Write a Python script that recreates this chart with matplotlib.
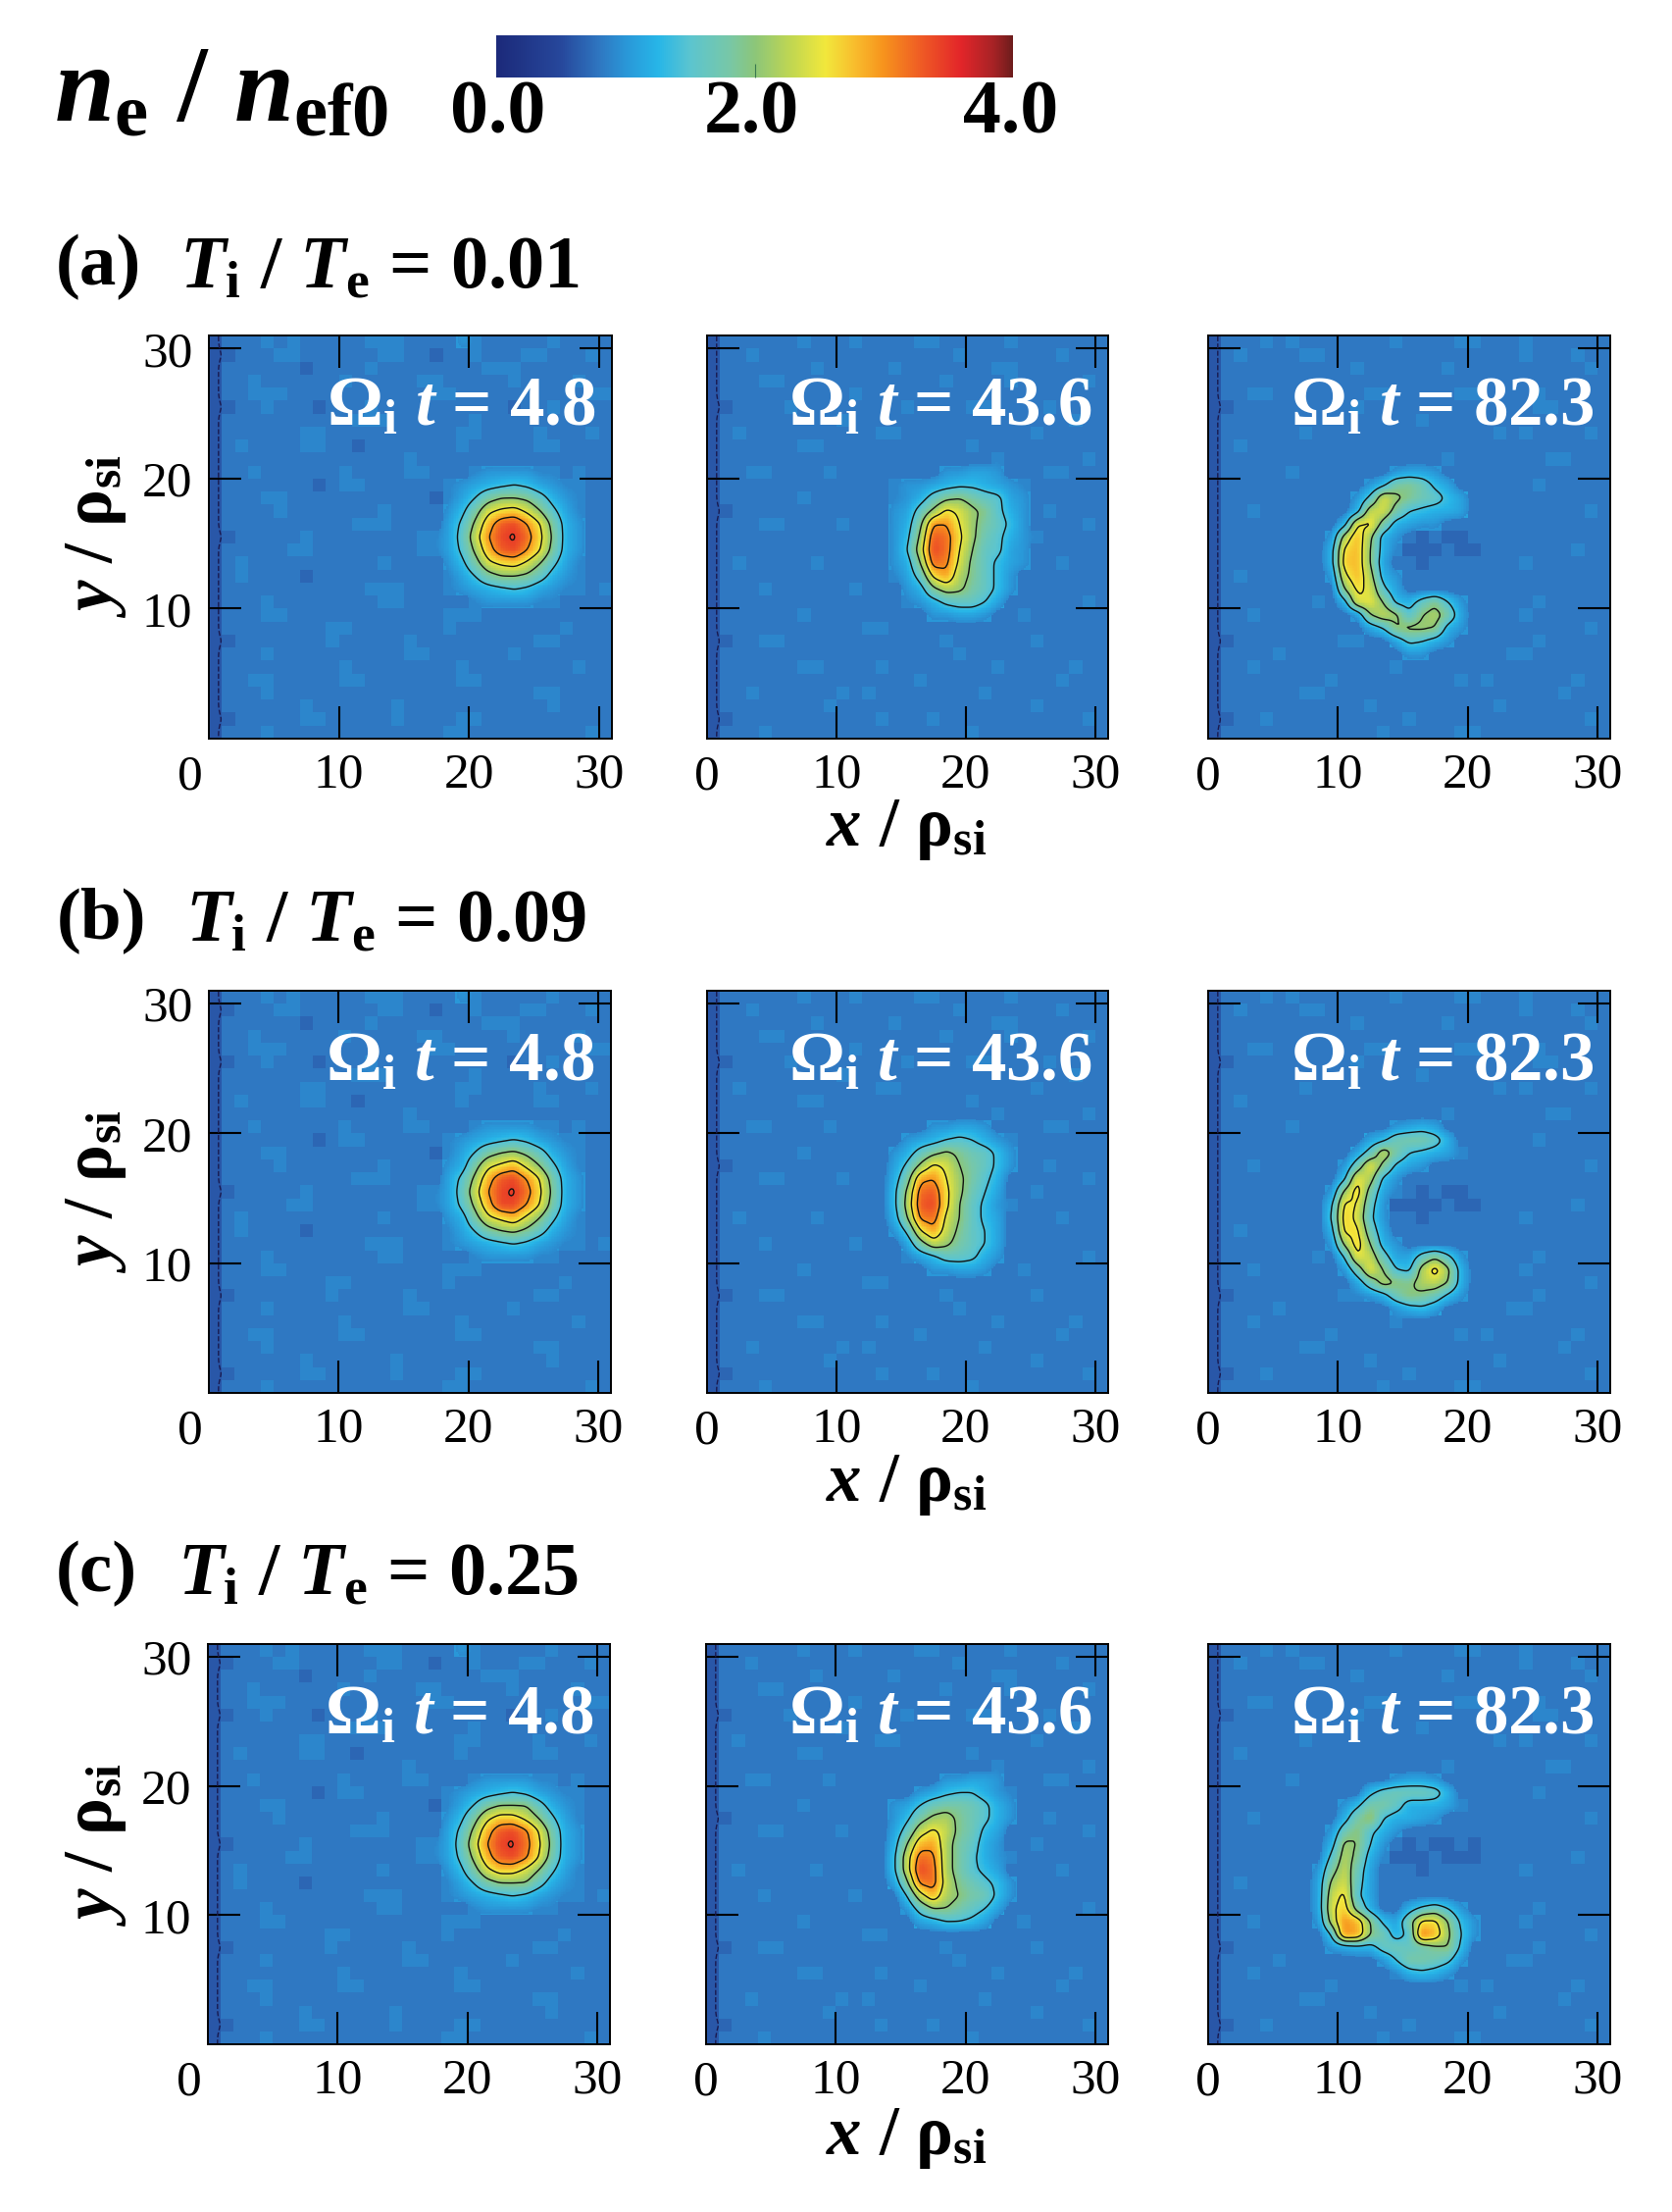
import numpy as np
import matplotlib
matplotlib.use("Agg")
import matplotlib.pyplot as plt
from matplotlib.colors import LinearSegmentedColormap

W, H = 1706, 2255
plt.rcParams.update({
    "font.family": "Liberation Serif",
    "mathtext.fontset": "custom",
    "mathtext.rm": "Liberation Serif:bold",
    "mathtext.it": "Liberation Serif:italic:bold",
    "mathtext.bf": "Liberation Serif:bold",
    "mathtext.default": "rm",
})

# density in tenths, base 36 characters; '.' keeps the background
BG_LEFT = [
 "6888989888889998888a98888898888","6788899888888998878898889988898","6888888788889888888889998888888",
 "6889888888988888998888898888988","6889998888888888899888888888899","6788988878889888888888878898888",
 "6888888888899988888898888888888","6888888998888888888998888988898","6898888998878888888988888998888",
 "6888888888888889888888888888888","6889888888988889988888898888988","6888888878998888888888998888888",
 "6888998888888888878888888889888","6888898888888988888889888889988","6888888888899988888889988888888",
 "6788888988888888998888888898888","6888889988888888998888888888888","6898888888888988888888888988988",
 "6898888788888888888888988888888","6888888888889998888888888888889","6888988888888998888898888988888",
 "6888998888888888889998888888888","6888888889988888889888888889888","6788888889888889888888888998888",
 "6888988888888889988888898888888","6888888888988888888988888888988","6889988888998888888998888888888",
 "6888988888888888888888888998888","6888888988888898888888888898888","6788888998888898888998888888888",
 "6888988888888888889988888888898",
]
BG_MID = [
 "6888888988898888998888898888888","6889888888888888888988888889888","6888888898888898888888998888888",
 "6888998888888888889888898888898","6888888888898888888888888888888","6788889888888889888899888898888",
 "6888888888988888888888888888988","6898888888888998888888888988888","6888888998888888888898888888888",
 "6888888888888888888888988888898","6889988889888888888888888899888","6888888888888888888888898888888",
 "6888888988888898888888888888888","6788888888888888888888888898888","6888998888988888888888888888898",
 "6888888888888888888888888988888","6888888888888888888888898888888","6898888898888888888888888889888",
 "6888888888888888888888888888888","6888988888898888888988888888888","6888888888888889888888988888898",
 "6888888988888888888888889888888","6888888888889988888888888888888","6788998888888888889888888988888",
 "6888888888888888888988888888888","6888888998888988888888988888988","6888888888888888988888888889888",
 "6889888888989888888889888888888","6888888889888888888888888988888","6788888888888988898888888888898",
 "6888988888888888888898888888888",
]
BG_RIGHT = [
 "6888989888888898888998889888888","6898888998888888888888889888988","6888888888898888889888888888898",
 "6888888888888888888888888888888","6889988888889988888998888988888","6788888888898888888888888998888",
 "6888888888888888988888888888888","6888888988888888888888989888898","6898888888888888888888888888888",
 "6888888888888888889888888899888","6888889888888888988888888888888","6888888888888899888888888988888",
 "6888888888888888888988888888888","6889888888888888888888888888898","6888888888888888888888888888888",
 "6888888888888888888888888888888","6888888888888888888888888888988","6888888888888888888888889888888",
 "6898888888888888888888888888888","6888888888888888888888888888888","6888888898888888888888888988888",
 "6889888888888889988888889888888","6888888888888888888988888888898","6788888888998888888888888988888",
 "6888898888888888888888899888888","6889888888888898888888888888888","6888888889888888888989888888988",
 "6888888998888888888888888889888","6888888888889888888888988888888","6788988888888889888888888888898",
 "6888888888888988888998888888888",
]
BG_COLS = [BG_LEFT, BG_MID, BG_RIGHT]
WINDOW_COL = [18, 14, 8]
WINDOW_TOP = 20

A1 = ["..9aaaa99..","9abcdedba99","9beikkjgca9","adioqrokfb9","bflsxyupica","bgnuyzwqjca",
      "bflsxyupica","adioqrokfb9","9beikkjgca9","9abcdedba99","..9aaaa99.."]
B1 = ["..9aaaa99..","9abcdedba99","9beikljgca9","acioqsokfb9","bflsxyupica","bgnuyzwqjca",
      "bflsyyupica","acioqsokfb9","9beikljgca9","9abcdedba99","..9aaaa99.."]
C1 = ["..9aaaa99..","9abcdedba99","9beikkkgca9","adiorrokfb9","bflsxyvpica","bgnuyzwqjca",
      "bflsxyvpica","adiorrokfb9","9beikkkgca9","9abcdedba99","..9aaaa99.."]

A2 = ["....aabba..","9aabcddcba9","9acgjkigfba","abglqoljfca","acjuupligda","adlxwqlhfca",
      "aenywpkgfba","ackwvojgdba","9bgqtmjgda.",".acjmligda.","..acfggeb..","...aabba..."]
B2 = ["...aabba...",".abcefeca..","acgjljhgda.","bflqokigda.","cituplifc..","dlwxqlheb..",
      "dmxyqkgda..","ckvwokgdb..","afptnjgeb..",".binligeb..","..bdggfca..","...aabba..."]
C2 = ["....aabba..","..abdeeca..","abehiihfca.","adilmjhfca.","bgnqnjhdb..","ckstmigca..",
      "dnwvmifca..","dnywmifdb..","bjvwnjhfda.",".ensmkihda.",".agkkigeb..","..bceedb..."]

A3 = ["......abba...","....adijhdb..","...afoljhgdb.","...cnoiedccb.","..cpqicbaa...",".amslca878778",
      ".cqskc9777877",".crskb8878...",".aosmca......","..kqofb......","..copkdcgjea.","...aknlfkmib.",
      "....bekllkca.","......bfeca..",".......aa...."]
B3 = ["......abcb...","....bdhiigc..","...bgniedcb..","..ahpjdba....","..dpmda......",".alrib9878778",
      ".dqpga7777877",".erofa8878...",".cqqhb.......",".alrkca......","..epngbbgjfa.","..ahpkedmrlc.",
      "...bhmkjmnkc.","....achkjhda.","......acdb..."]
C3 = ["......abba...","....dghhhgc..","..adiigcccb..","..cileccba...",".ahkfca......",".clkea8787787",
      ".fmjc97778777","ainhb88878...","blogb........","bnqfb........","boric..cfhea.","amuskdbiqqkda",
      ".eutkhcfvslea",".abccghghjkd.",".....aeiihfa.",".......cdca.."]

PANELS = [[A1, A2, A3], [B1, B2, B3], [C1, C2, C3]]
ROW_TITLES = ["(a)", "(b)", "(c)"]
RATIOS = ["0.01", "0.09", "0.25"]
TIMES = ["4.8", "43.6", "82.3"]
CONTOUR_LEVELS = [1.4, 2.0, 2.5, 3.0, 3.45]
XTICKS = [10, 20, 30]
YTICKS = [10, 20, 30]
CBAR_TICKS = ["0.0", "2.0", "4.0"]

cmap = LinearSegmentedColormap.from_list("ne", [
    (0.0, "#1c2a7a"), (0.5/4, "#27489c"), (0.8/4, "#2f78c2"), (1.0/4, "#2a97d8"),
    (1.25/4, "#27b6e8"), (1.5/4, "#5cc5d0"), (1.8/4, "#78c8a8"), (2.0/4, "#8cc67a"),
    (2.3/4, "#c4d850"), (2.55/4, "#f2e83c"), (2.8/4, "#f9b92c"), (3.0/4, "#f7941d"),
    (3.3/4, "#ef5a25"), (3.6/4, "#e3262a"), (3.85/4, "#a92326"), (1.0, "#6f1d1d")])


def build(bg, win, col0):
    g = np.array([[int(c, 36) / 10 for c in r[:31].ljust(31, "8")] for r in bg[::-1]])
    for k, row in enumerate(win):
        for i, c in enumerate(row):
            if c != ".":
                g[WINDOW_TOP - k, col0 + i] = int(c, 36) / 10
    return g


def refine(g, f=8):
    n = g.shape[0]
    cen = np.arange(n) + 0.5
    fine = (np.arange(n * f) + 0.5) / f
    out = np.array([np.interp(fine, cen, r) for r in g])
    out = np.array([np.interp(fine, cen, c) for c in out.T]).T
    k = np.hanning(f + 1)[1:-1]
    k /= k.sum()
    pad = len(k)
    p = np.pad(out, pad, mode="edge")
    p = np.apply_along_axis(lambda v: np.convolve(v, k, mode="same"), 0, p)
    p = np.apply_along_axis(lambda v: np.convolve(v, k, mode="same"), 1, p)
    smooth = p[pad:-pad, pad:-pad]
    blocky = np.kron(g, np.ones((f, f)))
    return fine, smooth, np.where(smooth > 0.92, smooth, blocky)


fig = plt.figure(figsize=(W / 100, H / 100), dpi=100, facecolor="white")


def rect(x0, y0, x1, y1):
    return [x0 / W, 1 - y1 / H, (x1 - x0) / W, (y1 - y0) / H]


def put(x, y, s, **kw):
    kw.setdefault("ha", "left")
    kw.setdefault("va", "center")
    kw.setdefault("fontweight", "bold")
    kw.setdefault("color", "black")
    fig.text(x / W, 1 - y / H, s, **kw)


# colour bar
cax = fig.add_axes(rect(506, 36, 1033, 79))
cax.imshow(np.linspace(0, 4, 512)[None, :], cmap=cmap, vmin=0, vmax=4, aspect="auto", extent=(0, 4, 0, 1))
cax.set_xticks([2]); cax.set_yticks([])
cax.tick_params(axis="x", direction="in", length=10, width=0.8, color="#3a7a50", labelbottom=False)
for s in cax.spines.values():
    s.set_visible(False)
for s, x in zip(CBAR_TICKS, (508, 766, 1031)):
    put(x, 117, s, fontsize=56, ha="center")
put(55, 97, r"$\mathit{n}_{\mathrm{e}}$ / $\mathit{n}_{\mathrm{ef0}}$", fontsize=79)

PX = [[(213, 624), (721, 1130), (1232, 1642)],
      [(213, 623), (721, 1130), (1232, 1642)],
      [(212, 622), (720, 1130), (1232, 1642)]]
PY = [(342, 753), (1010, 1420), (1676, 2084)]
TITLE_Y = [272, 938, 1604]
TITLE_X = [57, 58, 57]
RATIO_X = [183, 189, 181]
XLAB_Y = [846, 1514, 2180]

for r in range(3):
    put(TITLE_X[r], TITLE_Y[r], ROW_TITLES[r], fontsize=54)
    put(RATIO_X[r], TITLE_Y[r] + 2,
        r"$\mathit{T}_{\mathrm{i}}$ / $\mathit{T}_{\mathrm{e}}$ = " + RATIOS[r], fontsize=55)
    for c in range(3):
        x0, x1 = PX[r][c]
        y0, y1 = PY[r]
        ax = fig.add_axes(rect(x0, y0, x1, y1))
        g = build(BG_COLS[c], PANELS[r][c], WINDOW_COL[c])
        fine, smooth, img = refine(g)
        ax.imshow(img, origin="lower", extent=(0, 31, 0, 31), cmap=cmap, vmin=0, vmax=4,
                  aspect="auto", interpolation="nearest")
        ax.contour(fine, fine, smooth, levels=CONTOUR_LEVELS, colors="#111111", linewidths=1.0)
        ax.contour(fine, fine, smooth, levels=[0.65], colors="#1a1a50", linewidths=1.0, linestyles="dashed")
        ax.set_xlim(0, 31); ax.set_ylim(0, 31)
        ax.set_xticks(XTICKS); ax.set_yticks(YTICKS)
        ax.tick_params(direction="in", top=True, right=True, length=24, width=1.5,
                       labelsize=37, labelleft=(c == 0))
        ax.tick_params(axis="x", pad=10)
        ax.tick_params(axis="y", pad=12)
        for s in ax.spines.values():
            s.set_linewidth(1.4)
        dx = -13.5 if c == 0 else 0
        ax.annotate("0", xy=(0, 0), xycoords="axes fraction", xytext=(dx, -11.5), textcoords="offset points",
                    ha="center", va="top", fontsize=37)
        ax.text(0.96, 0.82, r"$\mathrm{\Omega}_{\mathrm{i}}$ $\mathit{t}$ = " + TIMES[c], transform=ax.transAxes,
                color="white", fontsize=51, fontweight="bold", ha="right", va="center")
        if c == 0:
            fig.text(98 / W, 1 - (y0 + 205) / H, r"$\mathit{y}$ / $\mathrm{\rho}_{\mathrm{si}}$", rotation=90,
                     fontsize=51, fontweight="bold", ha="center", va="center")
    put(924, XLAB_Y[r], r"$\mathit{x}$ / $\mathrm{\rho}_{\mathrm{si}}$", fontsize=51, ha="center")

fig.savefig("out.png", dpi=100, facecolor="white")
